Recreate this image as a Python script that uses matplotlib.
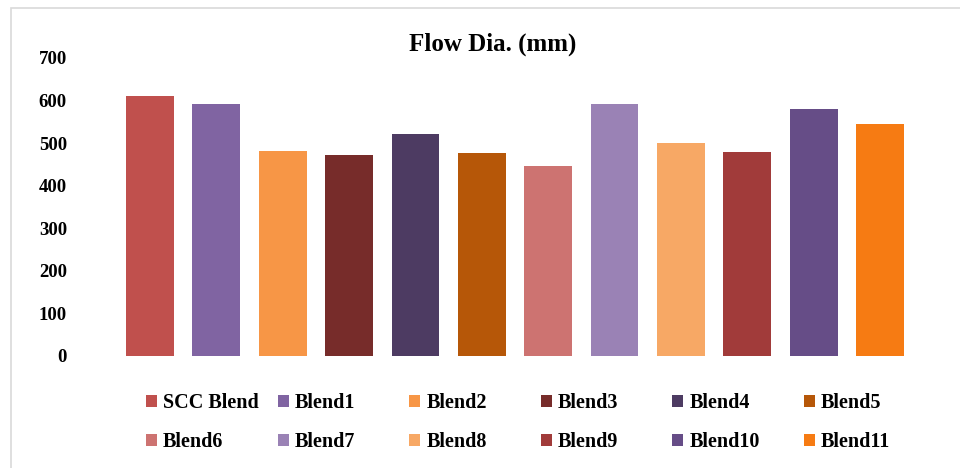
import matplotlib
matplotlib.use("Agg")
import matplotlib.pyplot as plt
from matplotlib.patches import Rectangle

# Flow diameter per mix (mm)
blends = ["SCC Blend", "Blend1", "Blend2", "Blend3", "Blend4", "Blend5",
          "Blend6", "Blend7", "Blend8", "Blend9", "Blend10", "Blend11"]
flow_dia = [610, 592, 481, 472, 522, 477, 446, 592, 501, 480, 581, 544]
colors = ["#C0504D", "#8064A2", "#F79646", "#772C2A", "#4D3B62", "#B65708",
          "#CD7371", "#9A82B5", "#F7A865", "#A13B3A", "#664D87", "#F67B13"]
yticks = [0, 100, 200, 300, 400, 500, 600, 700]

plt.rcParams["font.family"] = "Liberation Serif"
plt.rcParams["font.weight"] = "bold"

fig = plt.figure(figsize=(9.6, 4.68), dpi=100)
fig.patch.set_facecolor("white")

# light chart-area border
fig.patches.append(Rectangle((11 / 960, -0.1), 1.2, 1 - 8 / 468 + 0.1,
                             transform=fig.transFigure, fill=False,
                             edgecolor="#D9D9D9", linewidth=1.2))

ax = fig.add_axes([110 / 960, 1 - 355.7 / 468, 810 / 960, (355.7 - 58) / 468])
bars = ax.bar(range(len(blends)), flow_dia, width=0.72, color=colors)

ax.set_xlim(-0.6, len(blends) - 0.4)
ax.set_ylim(0, 700)
ax.set_yticks(yticks)
ax.set_xticks([])
ax.tick_params(axis="y", length=0, pad=31, labelsize=13.5)
for lbl in ax.get_yticklabels():
    lbl.set_fontweight("bold")
for s in ax.spines.values():
    s.set_visible(False)

fig.text(493 / 960, 1 - 44 / 468, "Flow Dia. (mm)", ha="center", va="center",
         fontsize=18, fontweight="bold")

# legend: six evenly spaced columns, two rows
for i in range(6):
    leg = fig.legend([bars[i], bars[i + 6]], [blends[i], blends[i + 6]],
                     loc="center left",
                     bbox_to_anchor=((146 + i * 131.6) / 960, 1 - 422.5 / 468),
                     frameon=False, borderpad=0, borderaxespad=0,
                     handlelength=0.55, handleheight=0.55, handletextpad=0.3,
                     labelspacing=0.95, prop={"size": 14.5, "weight": "bold"})

fig.savefig("out.png", dpi=100)
